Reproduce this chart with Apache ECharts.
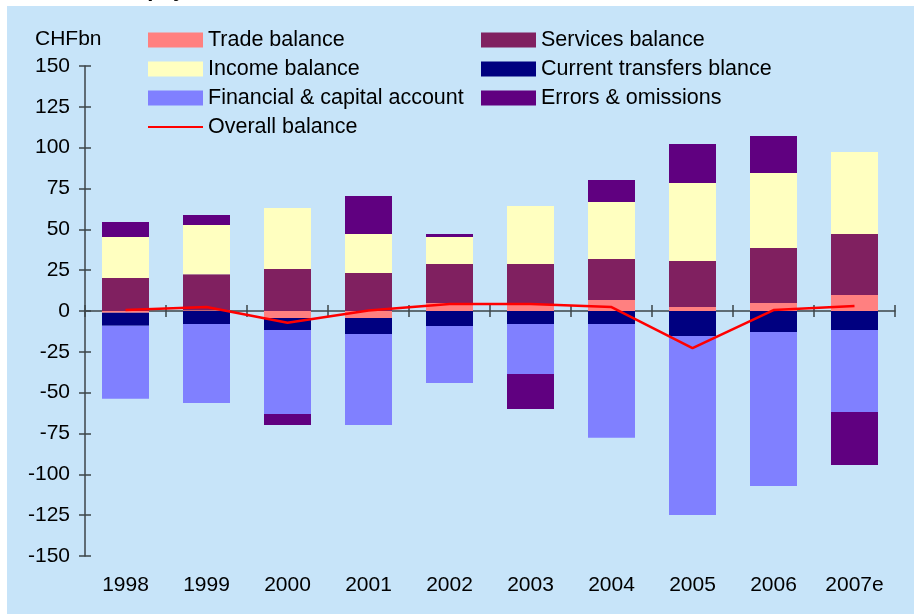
<!DOCTYPE html>
<html>
<head>
<meta charset="utf-8">
<script src="https://cdn.jsdelivr.net/npm/echarts@6/dist/echarts.min.js"></script>
<style>
  html, body { margin: 0; padding: 0; background: #ffffff; }
  #chart { width: 918px; height: 614px; }
</style>
</head>
<body>
<div id="chart"></div>
<script>
// Swiss balance of payments components, CHF bn
const years = ['1998', '1999', '2000', '2001', '2002', '2003', '2004', '2005', '2006', '2007e'];
const tradeBalance     = [-1.0, 0.5, -4.3, -4.3, 4.9, 4.3, 6.7, 2.4, 4.9, 9.8];
const servicesBalance  = [20.2, 22.0, 25.7, 23.3, 23.9, 24.5, 25.1, 28.2, 33.7, 37.4];
const incomeBalance    = [25.1, 30.1, 37.4, 23.9, 16.5, 35.5, 34.9, 47.8, 45.9, 50.2];
const transfersBalance = [-8.0, -8.0, -7.3, -9.8, -9.2, -8.0, -8.0, -15.3, -12.9, -11.6];
const financialAccount = [-44.7, -48.3, -51.5, -55.7, -34.9, -30.6, -69.6, -109.6, -94.3, -50.2];
const errorsOmissions  = [9.2, 6.1, -6.7, 23.2, 1.9, -21.4, 13.5, 23.9, 22.7, -32.5];
const overallBalance   = [0.6, 2.4, -7.2, 0.3, 4.3, 4.3, 2.4, -22.7, 0.6, 3.1];
const yTicks = { min: -150, max: 150, step: 25 };

const FONT = 'Liberation Sans, Arial, sans-serif';
const chart = echarts.init(document.getElementById('chart'), null, { renderer: 'canvas' });

function barSeries(name, data, color) {
  return {
    name: name, type: 'bar', stack: 'bop', data: data,
    xAxisIndex: 0, yAxisIndex: 0,
    barWidth: 47,
    itemStyle: { color: color },
    emphasis: { disabled: true }
  };
}

const axisColor = '#3c4448';
const legendText = { fontSize: 21.5, color: '#000', fontFamily: FONT, lineHeight: 21 };
const lineIcon = 'path://M0,0 L55,0 L55,2 L0,2 Z';

chart.setOption({
  animation: false,
  backgroundColor: '#ffffff',
  textStyle: { fontFamily: FONT },
  graphic: [
    { type: 'rect', left: 7, top: 6, shape: { width: 907, height: 608 }, style: { fill: '#C7E4F9' }, z: -10, silent: true },
    { type: 'text', left: 30, top: -21, style: { text: 'Balance of payments', font: 'bold 22px ' + FONT, fill: '#000' }, z: 5, silent: true },
    { type: 'text', left: 35, top: 29, style: { text: 'CHFbn', font: '21px ' + FONT, fill: '#000' }, silent: true }
  ],
  grid: { left: 85, right: 23, top: 66, bottom: 58, containLabel: false },
  legend: [
    {
      orient: 'vertical', left: 148, top: 29, padding: 0,
      itemWidth: 55, itemHeight: 15, itemGap: 7,
      icon: 'rect', symbolKeepAspect: true,
      textStyle: legendText,
      data: ['Trade balance', 'Income balance', 'Financial & capital account',
             { name: 'Overall balance', icon: lineIcon }],
      selectedMode: false
    },
    {
      orient: 'vertical', left: 481, top: 29, padding: 0,
      itemWidth: 55, itemHeight: 15, itemGap: 7,
      icon: 'rect',
      textStyle: legendText,
      data: ['Services balance', 'Current transfers blance', 'Errors & omissions'],
      selectedMode: false
    }
  ],
  xAxis: [
    {
      type: 'category', data: years, position: 'bottom',
      axisLine: { onZero: true, onZeroAxisIndex: 0, lineStyle: { color: axisColor, width: 1.5 } },
      axisTick: { show: true, inside: false, length: 6, lineStyle: { color: axisColor, width: 1.5 } },
      axisLabel: { show: false },
      splitLine: { show: false }
    },
    {
      type: 'category', data: years, position: 'bottom',
      axisLine: { show: false, onZero: true, onZeroAxisIndex: 0 },
      axisTick: { show: true, inside: true, length: 6, lineStyle: { color: axisColor, width: 1.5 } },
      axisLabel: { show: false },
      splitLine: { show: false }
    },
    {
      type: 'category', data: years, position: 'bottom',
      axisLine: { show: false, onZero: false },
      axisTick: { show: false },
      axisLabel: { show: true, fontSize: 21, color: '#000', fontFamily: FONT, margin: 19 },
      splitLine: { show: false }
    }
  ],
  yAxis: [
    {
      type: 'value', position: 'left',
      min: yTicks.min, max: yTicks.max, interval: yTicks.step,
      axisLine: { show: true, lineStyle: { color: axisColor, width: 1.5 } },
      axisTick: { show: true, inside: false, length: 6, lineStyle: { color: axisColor, width: 1.5 } },
      axisLabel: { fontSize: 21, color: '#000', fontFamily: FONT, margin: 15 },
      splitLine: { show: false }
    },
    {
      type: 'value', position: 'left',
      min: yTicks.min, max: yTicks.max, interval: yTicks.step,
      axisLine: { show: false },
      axisTick: { show: true, inside: true, length: 6, lineStyle: { color: axisColor, width: 1.5 } },
      axisLabel: { show: false },
      splitLine: { show: false }
    }
  ],
  series: [
    barSeries('Trade balance', tradeBalance, '#FF8080'),
    barSeries('Services balance', servicesBalance, '#802060'),
    barSeries('Income balance', incomeBalance, '#FFFFC0'),
    barSeries('Current transfers blance', transfersBalance, '#000080'),
    barSeries('Financial & capital account', financialAccount, '#8080FF'),
    barSeries('Errors & omissions', errorsOmissions, '#600080'),
    {
      name: 'Overall balance', type: 'line', data: overallBalance,
      xAxisIndex: 0, yAxisIndex: 0,
      symbol: 'none', smooth: false, z: 5,
      lineStyle: { color: '#FF0000', width: 2.5 },
      itemStyle: { color: '#FF0000' },
      emphasis: { disabled: true }
    }
  ]
});
</script>
</body>
</html>
